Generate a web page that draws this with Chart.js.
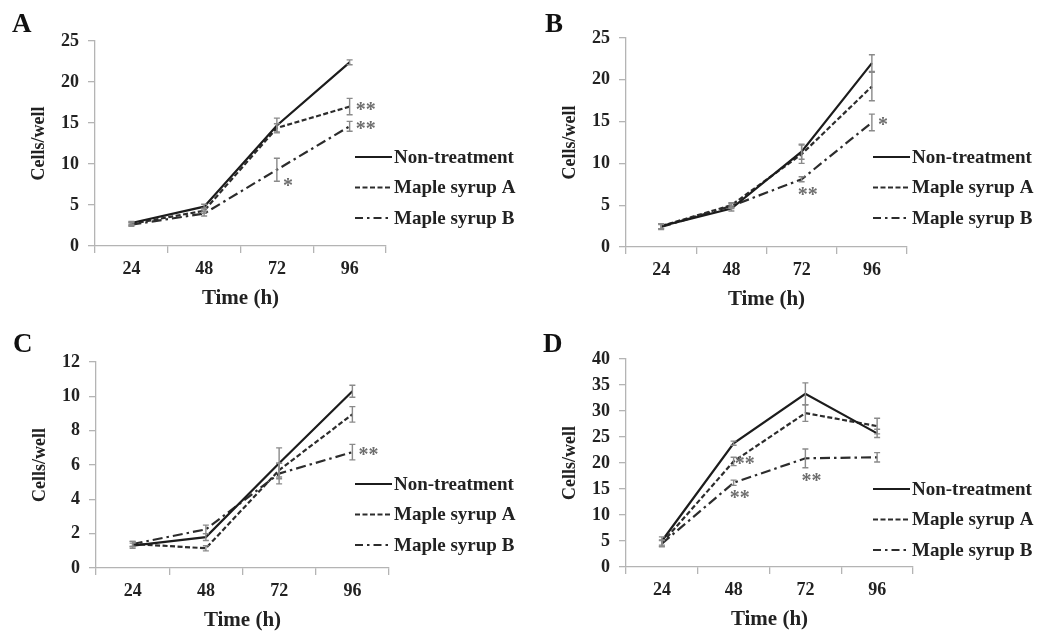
<!DOCTYPE html>
<html>
<head>
<meta charset="utf-8">
<title>Cells/well over time</title>
<script src="https://cdn.jsdelivr.net/npm/chart.js@4.4.0/dist/chart.umd.min.js"></script>
<style>
  body { margin: 0; background: #fff; }
  canvas { position: absolute; }
</style>
</head>
<body>
<canvas id="chartA" width="518" height="318" style="left:0;top:0"></canvas>
<canvas id="chartB" width="519" height="318" style="left:518px;top:0"></canvas>
<canvas id="chartC" width="518" height="319" style="left:0;top:318px"></canvas>
<canvas id="chartD" width="519" height="319" style="left:518px;top:318px"></canvas>
<script>
// Shared labels
const timeLabels = ["24", "48", "72", "96"];
const seriesNames = ["Non-treatment", "Maple syrup A", "Maple syrup B"];

// Panel A
const aNon = [2.8, 4.8, 14.7, 22.4];
const aNonErr = [0.2, 0.3, 0.9, 0.3];
const aSyrupA = [2.7, 4.3, 14.4, 17.0];
const aSyrupAErr = [0.2, 0.3, 0.5, 1.0];
const aSyrupB = [2.6, 3.95, 9.3, 14.6];
const aSyrupBErr = [0.2, 0.3, 1.4, 0.6];
const aStars = [
  { series: 1, point: 3, text: "**", place: "right" },
  { series: 2, point: 3, text: "**", place: "right" },
  { series: 2, point: 2, text: "*", place: "lowRight" },
];

// Panel B
const bNon = [2.5, 4.6, 11.4, 22.0];
const bNonErr = [0.3, 0.3, 0.9, 1.0];
const bSyrupA = [2.5, 5.0, 11.1, 19.2];
const bSyrupAErr = [0.3, 0.3, 1.1, 1.7];
const bSyrupB = [2.4, 4.9, 8.1, 14.9];
const bSyrupBErr = [0.3, 0.3, 0.3, 1.0];
const bStars = [
  { series: 2, point: 3, text: "*", place: "right" },
  { series: 2, point: 2, text: "**", place: "below" },
];

// Panel C
const cNon = [1.3, 1.8, 6.1, 10.3];
const cNonErr = [0.15, 0.2, 0.9, 0.35];
const cSyrupA = [1.4, 1.15, 5.7, 8.95];
const cSyrupAErr = [0.15, 0.15, 0.4, 0.45];
const cSyrupB = [1.4, 2.25, 5.5, 6.75];
const cSyrupBErr = [0.15, 0.25, 0.6, 0.45];
const cStars = [
  { series: 2, point: 3, text: "**", place: "right" },
];

// Panel D
const dNon = [5.0, 23.8, 33.3, 25.7];
const dNonErr = [0.8, 0.4, 2.1, 0.8];
const dSyrupA = [4.6, 20.3, 29.6, 27.1];
const dSyrupAErr = [0.6, 0.8, 1.6, 1.5];
const dSyrupB = [4.5, 16.2, 20.9, 21.1];
const dSyrupBErr = [0.6, 0.5, 1.8, 0.9];
const dStars = [
  { series: 1, point: 1, text: "**", place: "tight" },
  { series: 2, point: 1, text: "**", place: "below" },
  { series: 2, point: 2, text: "**", place: "below" },
];

const serif = "'Liberation Serif', 'Times New Roman', serif";
const axisColor = "#b4b4b4";
const inkColor = "#222";
const lineStyles = [
  { color: "#1c1c1c", dash: [] },
  { color: "#2c2c2c", dash: [5, 2.5] },
  { color: "#2c2c2c", dash: [10, 4, 2.5, 4] },
];

// one plugin per panel: error bars, asterisks, legend and the panel letter
function makeDecor(panel) {
  return {
    id: "panelDecor",
    afterDatasetsDraw(chart) {
      const { ctx } = chart;
      const yScale = chart.scales.y;
      ctx.save();
      ctx.strokeStyle = "#8a8a8a";
      ctx.lineWidth = 1.4;
      panel.errors.forEach((errs, i) => {
        const meta = chart.getDatasetMeta(i);
        meta.data.forEach((pt, j) => {
          const v = chart.data.datasets[i].data[j];
          const top = yScale.getPixelForValue(v + errs[j]);
          const bot = yScale.getPixelForValue(v - errs[j]);
          ctx.beginPath();
          ctx.moveTo(pt.x, top);
          ctx.lineTo(pt.x, bot);
          ctx.moveTo(pt.x - 3, top);
          ctx.lineTo(pt.x + 3, top);
          ctx.moveTo(pt.x - 3, bot);
          ctx.lineTo(pt.x + 3, bot);
          ctx.stroke();
        });
      });

      // significance marks
      ctx.fillStyle = "#6e6e6e";
      ctx.font = "bold 20px " + serif;
      ctx.textBaseline = "alphabetic";
      panel.stars.forEach((s) => {
        const pt = chart.getDatasetMeta(s.series).data[s.point];
        const v = chart.data.datasets[s.series].data[s.point];
        const bot = yScale.getPixelForValue(v - panel.errors[s.series][s.point]);
        let x = pt.x + 6;
        let y = pt.y;
        ctx.textAlign = "left";
        if (s.place === "tight") x = pt.x + 1;
        if (s.place === "lowRight") { x = pt.x + 6; y = bot + 2; }
        if (s.place === "below") { ctx.textAlign = "center"; x = pt.x + 6; y = bot + 10; }
        // asterisks sit high in the em box, so drop the baseline
        ctx.fillText(s.text, x, y + 9);
      });
      ctx.restore();
    },
    afterDraw(chart) {
      const { ctx } = chart;
      ctx.save();
      // legend
      ctx.font = "bold 19px " + serif;
      ctx.textAlign = "left";
      ctx.textBaseline = "middle";
      seriesNames.forEach((name, i) => {
        const y = panel.legendTop + i * 30.5;
        ctx.strokeStyle = lineStyles[i].color;
        ctx.lineWidth = 2.2;
        ctx.setLineDash(i === 2 ? [8, 4, 2.5, 4] : lineStyles[i].dash);
        ctx.beginPath();
        ctx.moveTo(355, y);
        ctx.lineTo(392, y);
        ctx.stroke();
        ctx.setLineDash([]);
        ctx.fillStyle = inkColor;
        ctx.fillText(name, 394, y + 1);
      });
      // panel letter
      ctx.font = "bold 27px " + serif;
      ctx.textBaseline = "alphabetic";
      ctx.fillStyle = "#111";
      ctx.fillText(panel.letter, panel.letterX, panel.letterY);
      ctx.restore();
    },
  };
}

function makePanel(panel) {
  const canvas = document.getElementById(panel.id);
  const W = canvas.width;
  const H = canvas.height;
  const box = panel.box;

  const datasets = panel.values.map((vals, i) => ({
    label: seriesNames[i],
    data: vals,
    borderColor: lineStyles[i].color,
    borderDash: lineStyles[i].dash,
    borderWidth: 2.2,
    pointRadius: 0,
    fill: false,
    tension: 0,
  }));

  return new Chart(canvas.getContext("2d"), {
    type: "line",
    data: { labels: timeLabels, datasets },
    options: {
      responsive: false,
      animation: false,
      devicePixelRatio: 1,
      layout: { padding: { top: box.top, right: W - box.right, bottom: 0, left: 0 } },
      plugins: {
        legend: { display: false },
        tooltip: { enabled: false },
      },
      scales: {
        x: {
          type: "category",
          offset: true,
          grid: {
            offset: true,
            drawOnChartArea: false,
            tickLength: 7,
            color: axisColor,
            lineWidth: 1.3,
          },
          border: { color: axisColor, width: 1.3 },
          ticks: { color: inkColor, font: { family: serif, size: 18, weight: "bold" }, padding: 6 },
          title: {
            display: true,
            text: "Time (h)",
            color: inkColor,
            font: { family: serif, size: 21, weight: "bold" },
            padding: { top: 0, bottom: H - box.bottom - 53 - 12.6 },
          },
          afterFit: (scale) => { scale.height = H - box.bottom; },
        },
        y: {
          min: 0,
          max: panel.yMax,
          grid: {
            drawOnChartArea: false,
            tickLength: 7,
            color: axisColor,
            lineWidth: 1.3,
          },
          border: { color: axisColor, width: 1.3 },
          ticks: {
            stepSize: panel.yStep,
            color: inkColor,
            font: { family: serif, size: 18, weight: "bold" },
            padding: 9,
          },
          title: {
            display: true,
            text: "Cells/well",
            color: inkColor,
            font: { family: serif, size: 18, weight: "bold" },
            padding: { top: box.left - 56 - 10.8, bottom: 0 },
          },
          afterFit: (scale) => { scale.width = box.left; },
        },
      },
    },
    plugins: [makeDecor(panel)],
  });
}

makePanel({
  id: "chartA", letter: "A", letterX: 12, letterY: 32,
  values: [aNon, aSyrupA, aSyrupB], errors: [aNonErr, aSyrupAErr, aSyrupBErr],
  stars: aStars, yMax: 25, yStep: 5,
  box: { left: 95, right: 386, top: 41, bottom: 246 }, legendTop: 157,
});

makePanel({
  id: "chartB", letter: "B", letterX: 27, letterY: 32,
  values: [bNon, bSyrupA, bSyrupB], errors: [bNonErr, bSyrupAErr, bSyrupBErr],
  stars: bStars, yMax: 25, yStep: 5,
  box: { left: 108, right: 389, top: 38, bottom: 247 }, legendTop: 157,
});

makePanel({
  id: "chartC", letter: "C", letterX: 13, letterY: 34,
  values: [cNon, cSyrupA, cSyrupB], errors: [cNonErr, cSyrupAErr, cSyrupBErr],
  stars: cStars, yMax: 12, yStep: 2,
  box: { left: 96, right: 389, top: 44, bottom: 250 }, legendTop: 166,
});

makePanel({
  id: "chartD", letter: "D", letterX: 25, letterY: 34,
  values: [dNon, dSyrupA, dSyrupB], errors: [dNonErr, dSyrupAErr, dSyrupBErr],
  stars: dStars, yMax: 40, yStep: 5,
  box: { left: 108, right: 395, top: 41, bottom: 249 }, legendTop: 171,
});
</script>
</body>
</html>
